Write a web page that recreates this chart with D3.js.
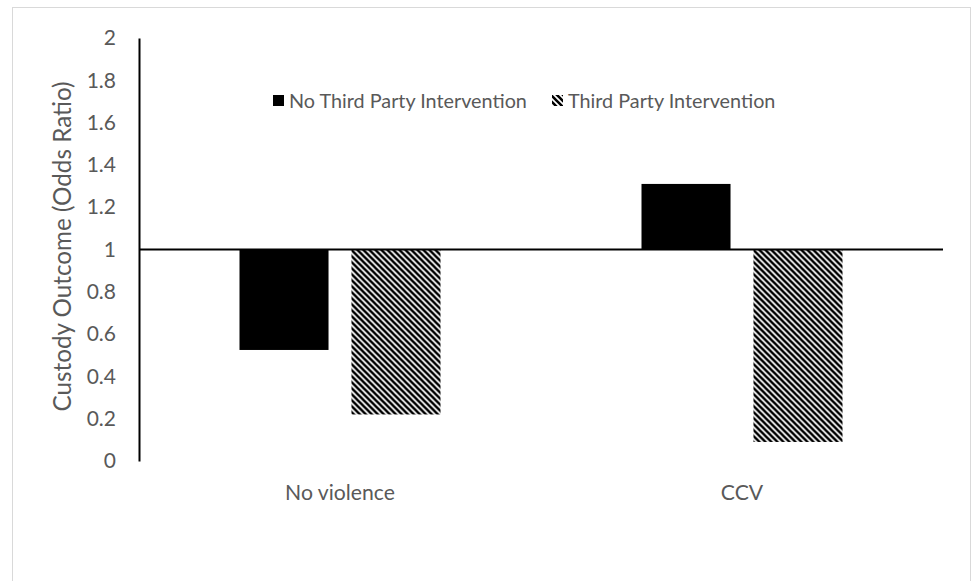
<!DOCTYPE html>
<html>
<head>
<meta charset="utf-8">
<script src="https://cdn.jsdelivr.net/npm/d3@7"></script>
<style>
  body { margin: 0; background: #fff; }
  text { font-family: Lato, "Open Sans", sans-serif; fill: #595959; }
</style>
</head>
<body>
<div id="chart"></div>
<script>
// Chart data
const categories = ['No violence', 'CCV'];
const seriesNames = ['No Third Party Intervention', 'Third Party Intervention'];
const noThirdParty = [0.525, 1.31];
const thirdParty = [0.22, 0.09];
const yTicks = [0, 0.2, 0.4, 0.6, 0.8, 1, 1.2, 1.4, 1.6, 1.8, 2];

const width = 972;
const height = 581;

const svg = d3.select('#chart')
    .append('svg')
    .attr('width', width)
    .attr('height', height);

// scale a label's font so it spans about the same width as in the original
function fitText(sel, target) {
    const len = sel.node().getComputedTextLength();
    const fs = parseFloat(sel.style('font-size'));
    sel.style('font-size', (fs * target / len).toFixed(2) + 'px');
}

// hatch pattern (wide downward diagonal)
const defs = svg.append('defs');
const pat = defs.append('pattern')
    .attr('id', 'hatch')
    .attr('patternUnits', 'userSpaceOnUse')
    .attr('width', 6)
    .attr('height', 6);
pat.append('rect').attr('width', 6).attr('height', 6).attr('fill', '#fff');
pat.append('path')
    .attr('d', 'M-3,-3 L9,9 M-3,3 L3,9 M3,-3 L9,3')
    .attr('stroke', '#000')
    .attr('stroke-width', 2.6);

// chart frame
svg.append('rect')
    .attr('x', 12.5).attr('y', 7.5)
    .attr('width', 958).attr('height', 600)
    .attr('fill', 'none')
    .attr('stroke', '#d9d9d9');

const plot = { left: 139, right: 943, top: 38, bottom: 461 };

const y = d3.scaleLinear()
    .domain([0, 2])
    .range([plot.bottom, plot.top]);

const x0 = d3.scaleBand()
    .domain(categories)
    .range([plot.left, plot.right])
    .paddingInner(0.5)
    .paddingOuter(0.25);

const x1 = d3.scaleBand()
    .domain(seriesNames)
    .range([0, x0.bandwidth()])
    .paddingInner(0.205);

const fills = {};
fills[seriesNames[0]] = '#000';
fills[seriesNames[1]] = 'url(#hatch)';

const rows = categories.map((c, i) => ({
    category: c,
    values: [
        { series: seriesNames[0], value: noThirdParty[i] },
        { series: seriesNames[1], value: thirdParty[i] }
    ]
}));

// bars start from the baseline at 1
const groups = svg.selectAll('.group')
    .data(rows)
    .enter()
    .append('g')
    .attr('transform', d => `translate(${x0(d.category)},0)`);

groups.selectAll('rect')
    .data(d => d.values)
    .enter()
    .append('rect')
    .attr('x', d => x1(d.series))
    .attr('width', x1.bandwidth())
    .attr('y', d => y(Math.max(1, d.value)))
    .attr('height', d => Math.abs(y(d.value) - y(1)))
    .attr('fill', d => fills[d.series]);

// y axis
const yAxis = svg.append('g')
    .attr('transform', `translate(${plot.left},0)`)
    .call(d3.axisLeft(y).tickValues(yTicks).tickSize(0).tickPadding(23).tickFormat(d3.format('~g')));
yAxis.select('.domain').attr('stroke', '#000').attr('stroke-width', 2);
yAxis.selectAll('text')
    .style('font-size', '21px')
    .style('font-family', 'Lato, sans-serif')
    .attr('fill', '#595959');

// category axis at 1
svg.append('line')
    .attr('x1', plot.left).attr('x2', plot.right)
    .attr('y1', y(1)).attr('y2', y(1))
    .attr('stroke', '#000')
    .attr('stroke-width', 2);

const catLabels = svg.selectAll('.cat-label')
    .data(categories)
    .enter()
    .append('text')
    .attr('x', d => x0(d) + x0.bandwidth() / 2)
    .attr('y', 500)
    .attr('text-anchor', 'middle')
    .style('font-size', '20px')
    .text(d => d);
fitText(catLabels.filter((d, i) => i === 0), 110);
catLabels.style('font-size', catLabels.filter((d, i) => i === 0).style('font-size'));

// axis title
const title = svg.append('text')
    .attr('transform', `translate(71,${y(1) - 3}) rotate(-90)`)
    .attr('text-anchor', 'middle')
    .style('font-size', '20px')
    .text('Custody Outcome (Odds Ratio)');
fitText(title, 330);

// legend
const legendPos = [{ x: 273, tx: 289 }, { x: 552, tx: 568 }];
const legend = svg.selectAll('.legend')
    .data(seriesNames)
    .enter()
    .append('g');
legend.append('rect')
    .attr('x', (d, i) => legendPos[i].x)
    .attr('y', 95)
    .attr('width', 11)
    .attr('height', 11)
    .attr('fill', d => fills[d]);
const legendText = legend.append('text')
    .attr('x', (d, i) => legendPos[i].tx)
    .attr('y', 108)
    .style('font-size', '20px')
    .text(d => d);
fitText(legendText.filter((d, i) => i === 0), 238);
legendText.style('font-size', legendText.filter((d, i) => i === 0).style('font-size'));
</script>
</body>
</html>
